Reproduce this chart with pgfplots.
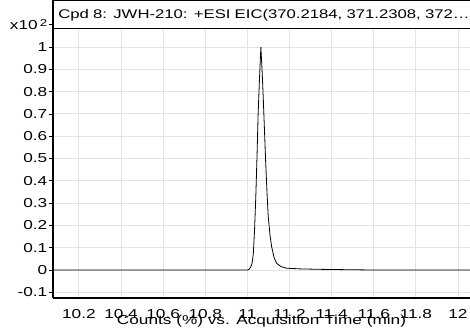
\documentclass[border=0pt]{standalone}
\usepackage{pgfplots}
\pgfplotsset{compat=1.18}
\usepackage{fontspec}
\setmainfont{Liberation Sans}[FakeStretch=1.33]
\begin{document}
\begin{tikzpicture}
\useasboundingbox (-53bp,-35bp) rectangle (417bp,298bp);
\begin{axis}[
  name=ax,
  scale only axis,
  width=417bp, height=298bp,
  xmin=10.077, xmax=12.057,
  ymin=-0.1256, ymax=1.211,
  axis x line*=bottom, axis y line*=left,
  axis line style={line width=1.2pt, black},
  xtick={10.2,10.4,10.6,10.8,11,11.2,11.4,11.6,11.8,12},
  xticklabels={10.2,10.4,10.6,10.8,11,11.2,11.4,11.6,11.8,12},
  ytick={-0.1,0,0.1,0.2,0.3,0.4,0.5,0.6,0.7,0.8,0.9,1,1.1},
  yticklabels={-0.1,0,0.1,0.2,0.3,0.4,0.5,0.6,0.7,0.8,0.9,1,{x10\,\raisebox{0.45ex}{\fontsize{10}{10}\selectfont 2}}},
  grid=major,
  major grid style={gray!22, line width=0.9pt},
  tick align=outside,
  major tick length=4bp,
  xtick style={draw=none},
  ytick style={black, line width=0.8pt},
  tick label style={font=\fontsize{13}{13}\selectfont},
  yticklabel style={inner xsep=1.5bp},
  xticklabel style={anchor=base, yshift=-16.5bp},
  /pgf/number format/assume math mode=true,
  xlabel={Counts (\%) vs. Acquisition Time (min)},
  xlabel style={at={(axis description cs:0.5,0)}, anchor=base, yshift=-26bp, font=\fontsize{13}{13}\selectfont},
]
\addplot[black, line width=0.8pt] coordinates {
(10.077,0) (11.0,0) (11.008,0.003) (11.015,0.012) (11.022,0.03) (11.028,0.07)
(11.034,0.18) (11.040,0.33) (11.046,0.52) (11.051,0.70) (11.058,0.87) (11.064,1.0)
(11.070,0.89) (11.075,0.78) (11.081,0.63) (11.087,0.48) (11.093,0.35) (11.099,0.24)
(11.107,0.16) (11.115,0.105) (11.127,0.055) (11.139,0.03) (11.16,0.015)
(11.186,0.008) (11.25,0.005) (11.344,0.003) (11.5,0.001) (11.6,0) (12.057,0)
};
\end{axis}
\node[draw=black, line width=0.8pt, fill=white, anchor=north west,
  minimum width=430bp, minimum height=28bp, text width=420bp, align=left,
  inner xsep=5bp, inner ysep=0pt, font=\fontsize{12.6}{13}\selectfont]
  at ([yshift=-0.5bp]ax.north west) {Cpd 8: JWH-210: +ESI EIC(370.2184, 371.2308, 372\ldots};
\end{tikzpicture}
\end{document}
